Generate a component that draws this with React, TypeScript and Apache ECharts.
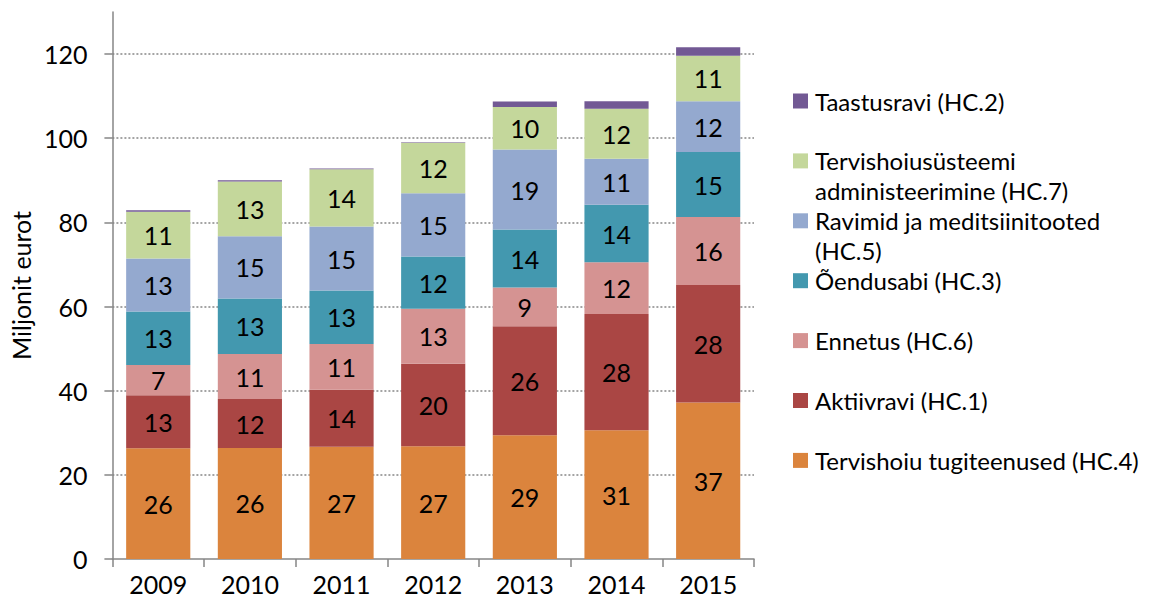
import React, { useEffect, useRef } from "react";
import * as echarts from "echarts";

const years = ["2009", "2010", "2011", "2012", "2013", "2014", "2015"];

const seriesNames = [
  "Tervishoiu tugiteenused (HC.4)",
  "Aktiivravi (HC.1)",
  "Ennetus (HC.6)",
  "Õendusabi (HC.3)",
  "Ravimid ja meditsiinitooted (HC.5)",
  "Tervishoiusüsteemi administeerimine (HC.7)",
  "Taastusravi (HC.2)",
];

const legendLabels = [
  "Tervishoiu tugiteenused (HC.4)",
  "Aktiivravi (HC.1)",
  "Ennetus (HC.6)",
  "Õendusabi (HC.3)",
  "Ravimid ja meditsiinitooted\n(HC.5)",
  "Tervishoiusüsteemi\nadministeerimine (HC.7)",
  "Taastusravi (HC.2)",
];

const tugiteenused = [26.3, 26.4, 26.7, 26.8, 29.4, 30.6, 37.2];
const aktiivravi = [12.6, 11.6, 13.5, 19.6, 25.9, 27.6, 27.9];
const ennetus = [7.2, 10.7, 10.9, 13.1, 9.2, 12.3, 16.2];
const oendusabi = [12.7, 13.2, 12.7, 12.4, 13.8, 13.7, 15.4];
const ravimid = [12.6, 14.8, 15.2, 15.0, 19.0, 10.9, 12.1];
const administeerimine = [11.1, 13.0, 13.6, 12.0, 10.1, 11.9, 10.8];
const taastusravi = [0.4, 0.3, 0.2, 0.15, 1.3, 1.8, 2.0];

const seriesValues = [
  tugiteenused,
  aktiivravi,
  ennetus,
  oendusabi,
  ravimid,
  administeerimine,
  taastusravi,
];

const colors = [
  "#DB843D",
  "#AA4644",
  "#D59392",
  "#4398AF",
  "#94A9CF",
  "#C4D79B",
  "#725994",
];

const yTicks = [0, 20, 40, 60, 80, 100, 120];

const FONT = "Lato, 'Open Sans', sans-serif";
const FS = 25;
const LEGEND_FS = 24;

export default function App() {
  const ref = useRef<HTMLDivElement>(null);

  useEffect(() => {
    if (!ref.current) return;
    const chart = echarts.init(ref.current, undefined, { renderer: "svg" });

    const series = seriesNames.map((name, i) => ({
      name,
      type: "bar",
      stack: "total",
      barCategoryGap: "30%",
      data: seriesValues[i],
      itemStyle: { color: colors[i] },
      label: {
        show: i < 6,
        position: "inside",
        color: "#000",
        fontSize: FS,
        fontFamily: FONT,
        formatter: (p: any) => String(Math.round(p.value)),
      },
    }));

    const legendGraphics: any[] = [];
    const order = [6, 5, 4, 3, 2, 1, 0];
    order.forEach((si, k) => {
      const cy = 101 + k * 59.9;
      legendGraphics.push({
        type: "rect",
        left: 793,
        top: cy - 7.5,
        shape: { width: 15, height: 15 },
        style: { fill: colors[si] },
        silent: true,
      });
      legendGraphics.push({
        type: "text",
        x: 815,
        y: cy - 15,
        style: {
          text: legendLabels[si],
          fill: "#000",
          fontSize: LEGEND_FS,
          fontFamily: FONT,
          lineHeight: 30,
          verticalAlign: "top",
          align: "left",
        },
        silent: true,
      });
    });

    chart.setOption({
      animation: false,
      backgroundColor: "#fff",
      grid: { left: 110, right: 396, top: 12, bottom: 44, containLabel: false },
      xAxis: {
        type: "category",
        data: years,
        axisLine: { lineStyle: { color: "#868686", width: 1.5 } },
        axisTick: { show: true, alignWithLabel: false, length: 8, lineStyle: { color: "#868686", width: 1.5 } },
        axisLabel: { color: "#000", fontSize: FS, fontFamily: FONT, margin: 12 },
        splitLine: { show: false },
      },
      yAxis: {
        type: "value",
        min: 0,
        max: 130,
        interval: 20,
        name: "Miljonit eurot",
        nameLocation: "middle",
        nameGap: 74,
        nameTextStyle: { color: "#000", fontSize: FS, fontFamily: FONT },
        axisLine: { show: true, lineStyle: { color: "#868686", width: 1.5 } },
        axisTick: {
          show: true,
          length: 8,
          inside: false,
          customValues: yTicks,
          lineStyle: { color: "#868686", width: 1.5 },
        },
        axisLabel: {
          color: "#000",
          fontSize: FS,
          fontFamily: FONT,
          margin: 25,
          customValues: yTicks,
        },
        splitLine: {
          show: true,
          showMinLine: false,
          lineStyle: { color: "#868686", type: [2, 2], width: 1.5 },
        },
      },
      series,
      graphic: legendGraphics,
    });

    return () => chart.dispose();
  }, []);

  return (
    <div
      ref={ref}
      style={{ position: "absolute", left: 0, top: 0, width: 1150, height: 603 }}
    />
  );
}
